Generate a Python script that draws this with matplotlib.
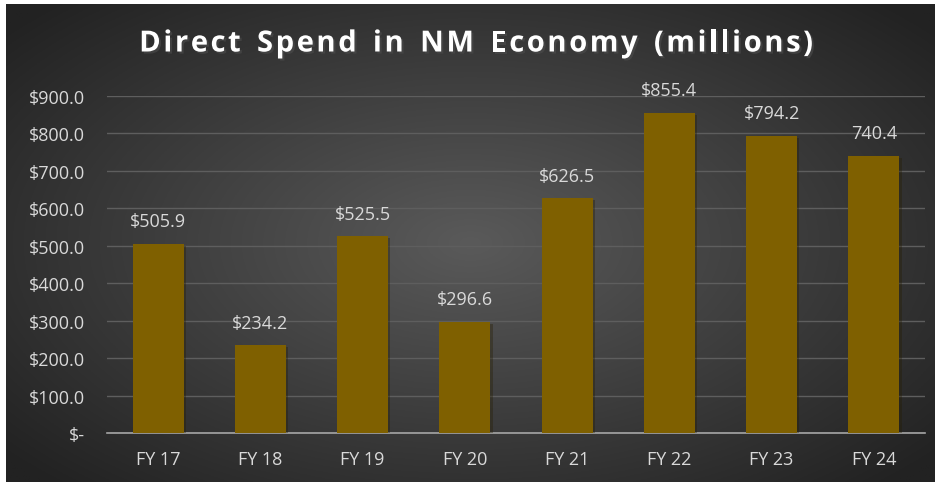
# Direct spend bar chart, dark Excel-like style
import numpy as np
import matplotlib as mpl, matplotlib.pyplot as plt
import matplotlib.patheffects as pe
from matplotlib.ticker import FuncFormatter, MultipleLocator

BAR="#7F6000"; TXT="#D9D9D9"; GRID="#5E5E5E"; AXIS="#A6A6A6"
mpl.rcParams.update({"font.family":["Open Sans","DejaVu Sans"]})

years=["FY 17","FY 18","FY 19","FY 20","FY 21","FY 22","FY 23","FY 24"]
spend=[505.9,234.2,525.5,296.6,626.5,855.4,794.2,740.4]
labels=["$505.9","$234.2","$525.5","$296.6","$626.5","$855.4","$794.2","740.4"]
TITLE="Direct Spend in NM Economy (millions)"

W,H=940,485
fig=plt.figure(figsize=(W/100,H/100),dpi=100,facecolor="white")

# radial gradient backdrop
bg=fig.add_axes([6/W,1-483/H,929/W,478/H],zorder=0)
yy,xx=np.mgrid[-1:1:300j,-1:1:600j]
r=np.sqrt((xx*0.95)**2+(yy*0.9)**2)
c0=np.array([0x5A,0x5A,0x5A])/255; c1=np.array([0x22,0x22,0x22])/255
img=c0+(c1-c0)*np.clip(r/1.25,0,1)[...,None]
bg.imshow(img,aspect="auto",extent=[0,1,0,1]); bg.axis("off")

ax=fig.add_axes([107/W,1-434/H,818/W,337/H],zorder=1)
ax.patch.set_alpha(0)
x=np.arange(len(years))
ax.bar(x,spend,width=0.5,color=BAR,zorder=3,
       path_effects=[pe.SimplePatchShadow(offset=(1.5,-1.5),alpha=0.35),pe.Normal()])
for xi,v,t in zip(x,spend,labels):
    ax.text(xi,v+36,t,ha="center",va="bottom",fontsize=13,color=TXT,zorder=4)

ax.set_xlim(-0.5,len(years)-0.5); ax.set_ylim(0,900)
ax.yaxis.set_major_locator(MultipleLocator(100))
ax.yaxis.set_major_formatter(FuncFormatter(lambda v,_:"$-" if v==0 else f"${v:.1f}"))
ax.set_xticks(x); ax.set_xticklabels(years)
ax.tick_params(length=0,labelsize=13,colors=TXT)
ax.tick_params(axis="x",pad=12); ax.tick_params(axis="y",pad=16)
for s in ["top","right","left"]: ax.spines[s].set_visible(False)
ax.spines["bottom"].set_color(AXIS); ax.spines["bottom"].set_linewidth(1.2)
ax.grid(axis="y",color=GRID,lw=1,zorder=0); ax.set_axisbelow(True)

# title with letter spacing (Excel-style tracking)
rend=fig.canvas.get_renderer()
kw=dict(fontsize=21,weight="bold",color="white",va="center",ha="left")
def w(s):
    t=fig.text(0,0,s,**kw); e=t.get_window_extent(rend).width; t.remove(); return e
base=w("HH"); adv=[w("H"+c+"H")-base+(3.5 if c==" " else 0) for c in TITLE]
track=2.6
total=sum(adv)+track*(len(TITLE)-1)
px=476-total/2
for c,a in zip(TITLE,adv):
    if c!=" ":
        fig.text(px/W,1-45/H,c,path_effects=[pe.withSimplePatchShadow(offset=(1.5,-1.5),alpha=0.6)],**kw)
    px+=a+track

fig.savefig("out.png",dpi=100)
